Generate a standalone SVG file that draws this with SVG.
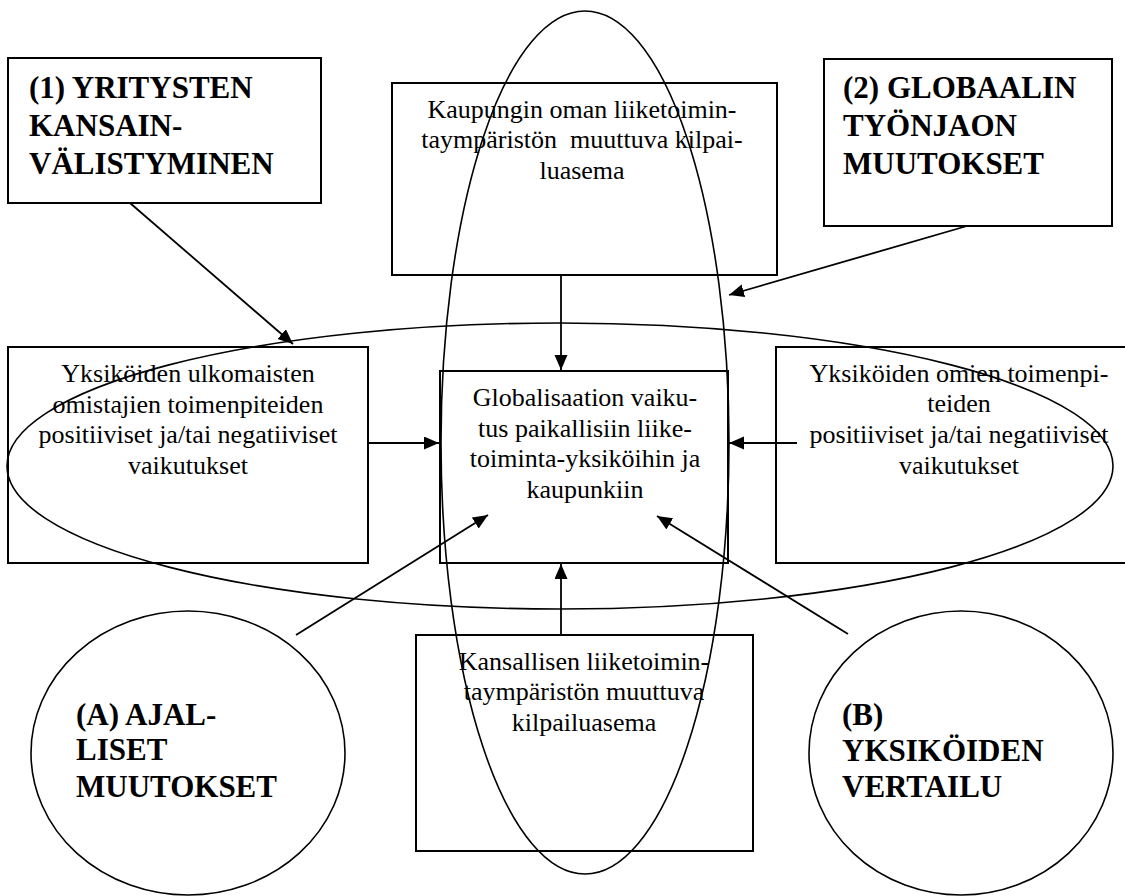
<svg xmlns="http://www.w3.org/2000/svg" width="1125" height="896" viewBox="0 0 1125 896">
<style>
.box{fill:none;stroke:#000;stroke-width:2}
.ell{fill:none;stroke:#000;stroke-width:1.6}
.t{font-family:"Liberation Serif","Times New Roman",serif;font-size:26px;fill:#000;text-anchor:middle}
.b{font-family:"Liberation Serif","Times New Roman",serif;font-size:31px;font-weight:bold;fill:#000}
.c{stroke:#000;stroke-width:1.8;fill:none}
</style>
<defs>
<marker id="ah" markerUnits="userSpaceOnUse" markerWidth="16" markerHeight="14" refX="15" refY="6.5" orient="auto">
<path d="M0,0 L15,6.5 L0,13 z" fill="#000"/>
</marker>
</defs>
<rect width="1125" height="896" fill="#fff"/>
<g id="box1">
<rect class="box" x="8" y="58" width="313" height="145"/>
<text class="b" x="29" y="98">(1) YRITYSTEN</text>
<text class="b" x="29" y="136">KANSAIN-</text>
<text class="b" x="29" y="174">VÄLISTYMINEN</text>
</g>
<g id="box2">
<rect class="box" x="824" y="59" width="288" height="167"/>
<text class="b" x="843" y="98">(2) GLOBAALIN</text>
<text class="b" x="843" y="136">TYÖNJAON</text>
<text class="b" x="843" y="174">MUUTOKSET</text>
</g>
<g id="top">
<rect class="box" x="392" y="83" width="385" height="192"/>
<text class="t" x="582" y="118">Kaupungin oman liiketoimin-</text>
<text class="t" x="582" y="148" style="white-space:pre">taympäristön  muuttuva kilpai-</text>
<text class="t" x="582" y="179">luasema</text>
</g>
<g id="center">
<rect class="box" x="440" y="371" width="288" height="192"/>
<text class="t" x="585" y="406">Globalisaation vaiku-</text>
<text class="t" x="585" y="437">tus paikallisiin liike-</text>
<text class="t" x="585" y="467">toiminta-yksiköihin ja</text>
<text class="t" x="585" y="498">kaupunkiin</text>
</g>
<g id="left">
<rect class="box" x="8" y="347" width="360" height="216"/>
<text class="t" x="188" y="382">Yksiköiden ulkomaisten</text>
<text class="t" x="188" y="413">omistajien toimenpiteiden</text>
<text class="t" x="188" y="443">positiiviset ja/tai negatiiviset</text>
<text class="t" x="188" y="474">vaikutukset</text>
</g>
<g id="right">
<rect class="box" x="776" y="347" width="360" height="216"/>
<text class="t" x="959" y="382">Yksiköiden omien toimenpi-</text>
<text class="t" x="959" y="412">teiden</text>
<text class="t" x="959" y="443">positiiviset ja/tai negatiiviset</text>
<text class="t" x="959" y="474">vaikutukset</text>
</g>
<g id="bottom">
<rect class="box" x="416" y="635" width="337" height="216"/>
<text class="t" x="584" y="670">Kansallisen liiketoimin-</text>
<text class="t" x="584" y="700">taympäristön muuttuva</text>
<text class="t" x="584" y="731">kilpailuasema</text>
</g>
<g id="circleA">
<ellipse class="ell" cx="188" cy="753" rx="157" ry="142"/>
<text class="b" x="76" y="725">(A) AJAL-</text>
<text class="b" x="76" y="760">LISET</text>
<text class="b" x="76" y="797">MUUTOKSET</text>
</g>
<g id="circleB">
<ellipse class="ell" cx="961" cy="753" rx="152" ry="142"/>
<text class="b" x="842" y="725">(B)</text>
<text class="b" x="842" y="761">YKSIKÖIDEN</text>
<text class="b" x="842" y="797">VERTAILU</text>
</g>
<g id="ellipses">
<ellipse class="ell" cx="560" cy="466" rx="553" ry="143"/>
<ellipse class="ell" cx="585" cy="442.5" rx="144" ry="431.5"/>
</g>
<g id="connectors">
<line class="c" x1="130" y1="203" x2="293" y2="344" marker-end="url(#ah)"/>
<line class="c" x1="967" y1="226" x2="729" y2="295" marker-end="url(#ah)"/>
<line class="c" x1="561" y1="275" x2="561" y2="370" marker-end="url(#ah)"/>
<line class="c" x1="368" y1="443" x2="439" y2="443" marker-end="url(#ah)"/>
<line class="c" x1="797" y1="443" x2="729" y2="443" marker-end="url(#ah)"/>
<line class="c" x1="561" y1="635" x2="561" y2="564" marker-end="url(#ah)"/>
<line class="c" x1="296" y1="635" x2="488" y2="515" marker-end="url(#ah)"/>
<line class="c" x1="848" y1="634" x2="657" y2="516" marker-end="url(#ah)"/>
</g>
</svg>
